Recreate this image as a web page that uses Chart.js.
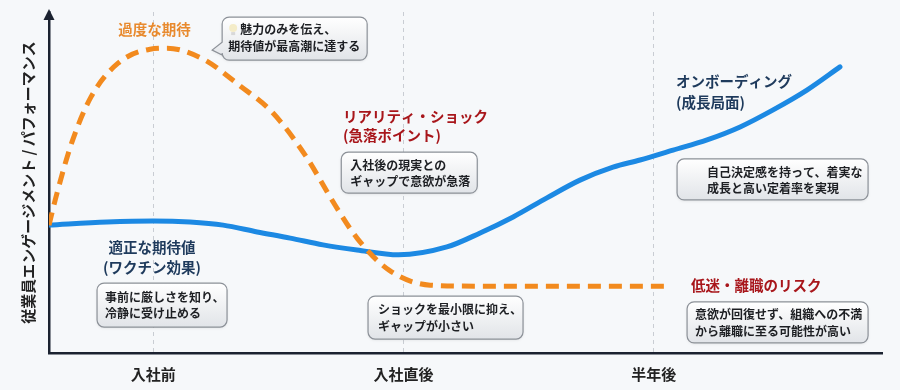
<!DOCTYPE html>
<html><head><meta charset="utf-8">
<script src="https://cdn.jsdelivr.net/npm/chart.js@4.4.1/dist/chart.umd.min.js"></script>
<style>html,body{margin:0;padding:0;background:#F6F8FA;}canvas{display:block;}</style>
</head><body>
<canvas id="c" width="900" height="390"></canvas>
<script>
// ---- data ----
const tickValues = [1, 2, 3];
const tickLabels = ['入社前', '入社直後', '半年後'];
const yAxisTitle = '従業員エンゲージメント / パフォーマンス';
const overExpectX = [0.583, 0.615, 0.675, 0.751, 0.859, 0.987, 1.055, 1.199, 1.347, 1.474, 1.606, 1.726, 1.814, 1.942, 2.106, 2.306, 3.057];
const overExpectY = [37.5, 46.9, 61.9, 75.1, 85.0, 89.1, 89.4, 86.2, 78.3, 70.7, 58.1, 43.4, 33.7, 24.3, 19.9, 19.6, 19.6];
const realisticX = [0.583, 0.815, 0.999, 1.147, 1.279, 1.415, 1.547, 1.678, 1.814, 1.980, 2.173, 2.306, 2.438, 2.573, 2.705, 2.837, 2.945, 3.077, 3.213, 3.345, 3.477, 3.612, 3.744];
const realisticY = [37.5, 38.4, 38.7, 38.4, 37.5, 35.5, 33.7, 31.7, 30.2, 28.8, 31.1, 35.2, 39.9, 45.5, 50.7, 54.5, 56.6, 59.5, 62.5, 66.3, 71.3, 77.1, 83.9];

// ---- annotation layout (anchored in data units) ----
const FONT = "'Noto Sans CJK JP', 'Noto Sans', sans-serif";
const ORANGE = '#F28A1E', BLUE = '#1C89E3', RED = '#A8161B', NAVY = '#1E3A5C', INK = '#1d1f23';
const labels = [
  {x: 1.005, y: 94.9, text: '過度な期待', color: '#E88A2E', align: 'center'},
  {x: 1.758, y: 69.5, text: 'リアリティ・ショック', color: RED, align: 'left'},
  {x: 1.758, y: 63.9, text: '(急落ポイント)', color: RED, align: 'left'},
  {x: 3.089, y: 79.5, text: 'オンボーディング', color: NAVY, align: 'left'},
  {x: 3.089, y: 73.6, text: '(成長局面)', color: NAVY, align: 'left'},
  {x: 0.995, y: 30.8, text: '適正な期待値', color: NAVY, align: 'center'},
  {x: 0.995, y: 25.1, text: '(ワクチン効果)', color: NAVY, align: 'center'},
  {x: 3.149, y: 19.9, text: '低迷・離職のリスク', color: RED, align: 'left'}
];
const boxes = [
  {x: 1.275, y: 98.5, w: 145, h: 43, pad: 6, lines: ['魅力のみを伝え、', '期待値が最高潮に達する'], ly: [12, 29], bulb: true, tail: true},
  {x: 1.751, y: 58.9, w: 136, h: 41, pad: 9, lines: ['入社後の現実との', 'ギャップで意欲が急落'], ly: [13, 29]},
  {x: 3.093, y: 56.9, w: 191, h: 41, pad: 30, lines: ['自己決定感を持って、着実な', '成長と高い定着率を実現'], ly: [13, 29]},
  {x: 0.775, y: 20.5, w: 130, h: 44, pad: 8, lines: ['事前に厳しさを知り、', '冷静に受け止める'], ly: [14.5, 30]},
  {x: 1.858, y: 16.7, w: 155, h: 43, pad: 10, lines: ['ショックを最小限に抑え、', 'ギャップが小さい'], ly: [13, 30]},
  {x: 3.133, y: 15.0, w: 181, h: 41, pad: 8, lines: ['意欲が回復せず、組織への不満', 'から離職に至る可能性が高い'], ly: [13, 29.5]}
];

function zip(xs, ys) { return xs.map((v, i) => ({x: v, y: ys[i]})); }

function boxPath(ctx, L, T, w, h, r, tail) {
  ctx.beginPath();
  ctx.moveTo(L + r, T);
  ctx.lineTo(L + w - r, T); ctx.arcTo(L + w, T, L + w, T + r, r);
  ctx.lineTo(L + w, T + h - r); ctx.arcTo(L + w, T + h, L + w - r, T + h, r);
  ctx.lineTo(L + r, T + h); ctx.arcTo(L, T + h, L, T + h - r, r);
  if (tail) { ctx.lineTo(L, T + 38); ctx.lineTo(L - 10, T + 33); ctx.lineTo(L, T + 25); }
  ctx.lineTo(L, T + r); ctx.arcTo(L, T, L + r, T, r);
  ctx.closePath();
}

const annotPlugin = {
  id: 'annot',
  afterDraw(chart) {
    const {ctx, chartArea} = chart;
    const sx = chart.scales.x, sy = chart.scales.y;
    ctx.save();
    // axis arrow
    ctx.fillStyle = '#1b2230';
    const ax = chartArea.left, at = chartArea.top;
    ctx.beginPath(); ctx.moveTo(ax, at - 3); ctx.lineTo(ax - 5.5, at + 8); ctx.lineTo(ax + 5.5, at + 8); ctx.closePath(); ctx.fill();
    // labels
    ctx.font = 'bold 14.5px ' + FONT;
    ctx.textBaseline = 'middle';
    labels.forEach(l => {
      ctx.fillStyle = l.color; ctx.textAlign = l.align;
      ctx.fillText(l.text, sx.getPixelForValue(l.x), sy.getPixelForValue(l.y));
    });
    // boxes
    boxes.forEach(b => {
      const L = sx.getPixelForValue(b.x), T = sy.getPixelForValue(b.y);
      ctx.save();
      ctx.shadowColor = 'rgba(0,0,0,0.10)'; ctx.shadowBlur = 3; ctx.shadowOffsetY = 1;
      const g = ctx.createLinearGradient(0, T, 0, T + b.h);
      g.addColorStop(0, '#ffffff'); g.addColorStop(1, '#e1e4e8');
      boxPath(ctx, L, T, b.w, b.h, 7, b.tail);
      ctx.fillStyle = g; ctx.fill();
      ctx.restore();
      boxPath(ctx, L, T, b.w, b.h, 7, b.tail);
      ctx.strokeStyle = '#8c9198'; ctx.lineWidth = 1.2; ctx.stroke();
      ctx.fillStyle = INK; ctx.font = 'bold 12px ' + FONT; ctx.textAlign = 'left'; ctx.textBaseline = 'middle';
      b.lines.forEach((t, i) => {
        let tx = L + b.pad;
        if (b.bulb && i === 0) {
          ctx.save();
          ctx.fillStyle = '#f4ecc8';
          ctx.beginPath(); ctx.arc(tx + 5, T + b.ly[0] - 1, 4, 0, Math.PI * 2); ctx.fill();
          ctx.fillStyle = '#d8d8d8'; ctx.fillRect(tx + 3, T + b.ly[0] + 3, 4, 3);
          ctx.restore();
          tx += 12;
        }
        ctx.fillText(t, tx, T + b.ly[i]);
      });
    });
    ctx.restore();
  }
};

new Chart(document.getElementById('c'), {
  type: 'line',
  data: {
    datasets: [
      {label: '過度な期待', data: zip(overExpectX, overExpectY), borderColor: ORANGE, borderWidth: 5, borderDash: [13, 8], borderCapStyle: 'butt', pointRadius: 0, cubicInterpolationMode: 'monotone', fill: false},
      {label: '適正な期待値', data: zip(realisticX, realisticY), borderColor: BLUE, borderWidth: 5, borderCapStyle: 'round', pointRadius: 0, cubicInterpolationMode: 'monotone', fill: false}
    ]
  },
  options: {
    responsive: false, animation: false, parsing: false,
    layout: {padding: {top: 12, right: 18, left: 0, bottom: 0}},
    plugins: {legend: {display: false}, tooltip: {enabled: false}},
    scales: {
      x: {
        type: 'linear', min: 0.583, max: 3.912,
        afterBuildTicks: s => { s.ticks = tickValues.map(v => ({value: v})); },
        afterFit: s => { s.height = 37; },
        ticks: {callback: (v) => tickLabels[tickValues.indexOf(v)], color: '#222', padding: 12, font: {family: FONT, size: 15, weight: 'bold'}, maxRotation: 0, autoSkip: false},
        grid: {color: '#c9cdd3', lineWidth: 1, drawTicks: false},
        border: {display: true, color: '#1b2230', width: 2.5, dash: [4, 4]}
      },
      y: {
        type: 'linear', min: 0, max: 100,
        afterFit: s => { s.width = 49; },
        ticks: {display: false},
        grid: {display: false, drawTicks: false},
        border: {display: true, color: '#1b2230', width: 2.5},
        title: {display: true, text: yAxisTitle, color: '#222', padding: {top: 19, bottom: 0}, font: {family: FONT, size: 15, weight: 'bold'}}
      }
    }
  },
  plugins: [annotPlugin]
});
</script>
</body></html>
